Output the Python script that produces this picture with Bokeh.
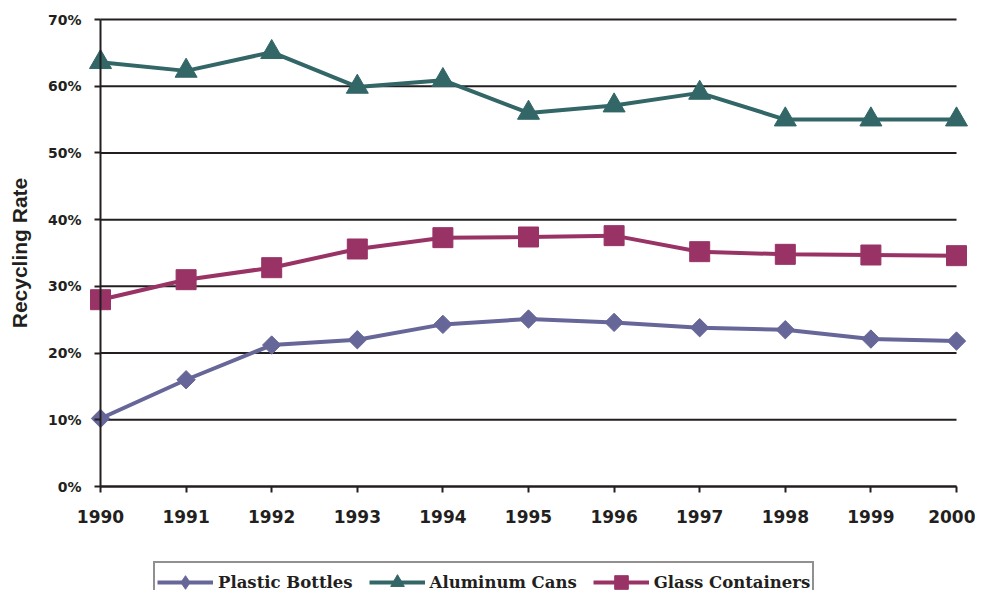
from bokeh.plotting import figure
from bokeh.models import Range1d, Legend, LegendItem, FixedTicker, ColumnDataSource
from bokeh.embed import file_html
from bokeh.resources import INLINE
import numpy as np

years = [1990, 1991, 1992, 1993, 1994, 1995, 1996, 1997, 1998, 1999, 2000]
plastic = [10.2, 16.0, 21.2, 22.0, 24.3, 25.1, 24.6, 23.8, 23.5, 22.1, 21.8]
aluminum = [63.6, 62.3, 65.1, 59.9, 60.9, 56.0, 57.1, 59.0, 55.0, 55.0, 55.0]
glass = [28.0, 31.0, 32.8, 35.6, 37.3, 37.4, 37.6, 35.2, 34.8, 34.7, 34.6]
series_names = ["Plastic Bottles", "Aluminum Cans", "Glass Containers"]
y_ticks = [0, 10, 20, 30, 40, 50, 60, 70]
y_tick_labels = {t: f"{t}%" for t in y_ticks}

INK = "#231f20"
colors = ["#666699", "#336666", "#993366"]

W, H = 975, 590
# canvas placement of the data area (pixels)
LEFT_PX, RIGHT_PX, TOP_PX, ZERO_PX = 100, 956, 19, 486
x0, x1 = years[0], years[-1]
px_x = (RIGHT_PX - LEFT_PX) / (x1 - x0)
px_y = (ZERO_PX - TOP_PX) / 70.0
xr = Range1d(x0 - LEFT_PX / px_x, x0 + (W - LEFT_PX) / px_x)
yr = Range1d(-(H - ZERO_PX) / px_y, 70 + TOP_PX / px_y)

p = figure(width=W, height=H, output_backend="svg", toolbar_location=None,
           x_range=xr, y_range=yr,
           min_border_left=0, min_border_right=0, min_border_top=0,
           min_border_bottom=0)
p.outline_line_color = None
p.background_fill_color = "white"
p.border_fill_color = "white"

p.xaxis.ticker = FixedTicker(ticks=years)
p.xaxis.bounds = (x0, x1)
p.xaxis.fixed_location = 0
p.yaxis.ticker = FixedTicker(ticks=y_ticks)
p.yaxis.bounds = (0, 70)
p.yaxis.fixed_location = x0
p.yaxis.major_label_overrides = y_tick_labels
for ax in (p.xaxis[0], p.yaxis[0]):
    ax.axis_line_color = INK
    ax.axis_line_width = 2
    ax.major_tick_line_color = INK
    ax.major_tick_line_width = 2
    ax.major_tick_in = 0
    ax.major_tick_out = 6
    ax.minor_tick_line_color = None
    ax.major_label_text_color = INK
    ax.major_label_text_font = "DejaVu Sans"
    ax.major_label_text_font_style = "bold"
p.xaxis.major_label_text_font_size = "17px"
p.xaxis.major_label_standoff = 17
p.yaxis.major_label_text_font_size = "14px"
p.yaxis.major_label_standoff = 13
p.yaxis.axis_label = "Recycling Rate"
p.yaxis.axis_label_text_font = "Liberation Sans"
p.yaxis.axis_label_text_font_style = "bold"
p.yaxis.axis_label_text_font_size = "21px"
p.yaxis.axis_label_text_color = INK
p.yaxis.axis_label_standoff = 14

p.xgrid.grid_line_color = None
p.ygrid.grid_line_color = None
p.segment(x0=[x0] * len(y_ticks), x1=[x1] * len(y_ticks), y0=y_ticks, y1=y_ticks,
          line_color=INK, line_width=2, level="underlay")

items = []
data = [plastic, aluminum, glass]
markers = [("square", 13, np.pi / 4), ("triangle", 22, 0.0), ("square", 20, 0.0)]
legend_markers = ["diamond", "triangle", "square"]
for name, vals, col, (mk, sz, ang), lmk in zip(series_names, data, colors, markers, legend_markers):
    src = ColumnDataSource(dict(x=years, y=vals))
    l = p.line("x", "y", source=src, line_color=col, line_width=4)
    s = p.scatter("x", "y", source=src, marker=mk, size=sz, angle=ang,
                  fill_color=col, line_color=col)
    if lmk != mk:
        # legend swatch shape (drawn tiny, hidden under the data marker)
        s = p.scatter("x", "y", source=src, marker=lmk, size=1,
                      fill_color=col, line_color=col)
    items.append(LegendItem(label=name, renderers=[l, s]))

legend = Legend(items=items, orientation="horizontal", location=(153, -13),
                label_text_font="DejaVu Serif", label_text_font_style="bold",
                label_text_font_size="16.5px", label_text_color=INK,
                glyph_width=56, glyph_height=34, label_standoff=5, spacing=16,
                padding=2, margin=0, border_line_color=INK, border_line_width=2,
                background_fill_color="white", background_fill_alpha=1.0)
p.add_layout(legend, "center")

open("out.html", "w").write(file_html(p, INLINE))
